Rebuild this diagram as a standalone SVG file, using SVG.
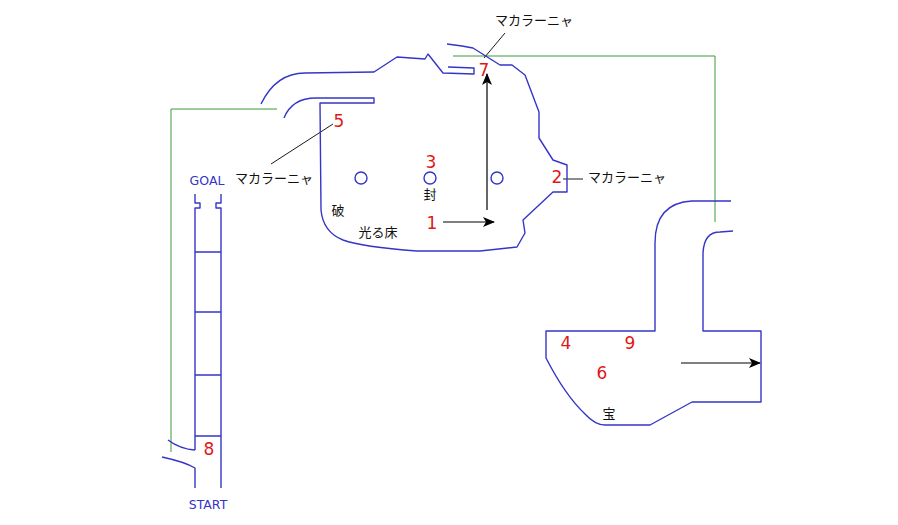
<svg xmlns="http://www.w3.org/2000/svg" width="898" height="525" viewBox="0 0 898 525">
<style>
.wall{fill:none;stroke:#3535c8;stroke-width:1.4;stroke-linejoin:round}
.green{fill:none;stroke:#3a9a3a;stroke-width:1}
.lead{fill:none;stroke:#000;stroke-width:0.9}
.arr{fill:none;stroke:#000;stroke-width:1.2}
.num{font-family:"DejaVu Sans","Liberation Sans",sans-serif;font-size:17px;fill:#e01818;text-anchor:middle}
.jp{font-family:"Noto Sans CJK JP","Noto Sans",sans-serif;font-size:13px;fill:#111;text-anchor:middle}
.en{font-family:"DejaVu Sans","Liberation Sans",sans-serif;font-size:12.5px;fill:#3535c8;text-anchor:middle}
</style>
<defs>
<marker id="ah" viewBox="0 0 12 10" refX="11" refY="5" markerWidth="12" markerHeight="10" markerUnits="userSpaceOnUse" orient="auto">
<path d="M0,0 L12,5 L0,10 L3,5 z" fill="#000"/>
</marker>
</defs>
<g id="connectors">
<path class="green" d="M453,56 L715,56 L715,222"/>
<path class="green" d="M277,109 L171,109 L171,452"/>
<path class="lead" d="M505,33 L484,58"/>
<path class="lead" d="M271,164 L333,124"/>
<path class="lead" d="M563,179 L583,179"/>
<path class="arr" d="M443,222 L494,222" marker-end="url(#ah)"/>
<path class="arr" d="M487,210 L487,74" marker-end="url(#ah)"/>
<path class="arr" d="M681,363 L760,363" marker-end="url(#ah)"/>
</g>
<g id="main-room">
<path class="wall" d="M261,104 Q276,73 305,73 L374,72 L397,57 L425,59 L428,54 L443,73 L474,74 L474,68 L448,67"/>
<path class="wall" d="M284,118 Q292,98 316,98 L374,98 L374,103 L320,103 L321,210 Q323,232 343,240 Q362,247 417,251 L480,251 L517,247 L525,233 L523,220 L553,192 L567,192 L567,165 L553,160 L539,138 L539,112 L525,75 L512,65 L500,65 L473,48 L462,46 L447,44"/>
<circle class="wall" cx="361" cy="178" r="6"/>
<circle class="wall" cx="430" cy="178" r="6"/>
<circle class="wall" cx="497" cy="178" r="6"/>
<text class="num" x="431" y="168">3</text>
<text class="jp" x="430" y="199">封</text>
<text class="jp" x="338" y="215">破</text>
<text class="jp" x="378" y="237">光る床</text>
<text class="num" x="432" y="229">1</text>
<text class="num" x="339" y="127">5</text>
<text class="num" x="484" y="76">7</text>
<text class="num" x="557" y="183">2</text>
</g>
<g id="callouts">
<text class="jp" x="534" y="25">マカラーニャ</text>
<text class="jp" x="274" y="183">マカラーニャ</text>
<text class="jp" x="627" y="182">マカラーニャ</text>
</g>
<g id="ladder">
<path class="wall" d="M195,194 V203 H200 V208 H195 V450"/>
<path class="wall" d="M221,194 V203 H216 V208 H221 V488"/>
<path class="wall" d="M195,252 H221 M195,312 H221 M195,375 H221 M195,436 H221"/>
<path class="wall" d="M168,440 Q180,449 195,450"/>
<path class="wall" d="M162,457 Q185,462 195,468 V488"/>
<text class="en" x="207" y="185">GOAL</text>
<text class="en" x="208" y="509">START</text>
<text class="num" x="209" y="455">8</text>
</g>
<g id="treasure-room">
<path class="wall" d="M731,201 L692,201 Q655,203 655,243 L655,331 L546,331 L546,358 Q565,395 585,414 Q595,425 605,425 L650,425 L692,402 L761,402 L761,331 L703,331 L703,253 Q704,232 720,232 L733,231"/>
<text class="num" x="566" y="349">4</text>
<text class="num" x="630" y="349">9</text>
<text class="num" x="602" y="379">6</text>
<text class="jp" x="609" y="418">宝</text>
</g>
</svg>
